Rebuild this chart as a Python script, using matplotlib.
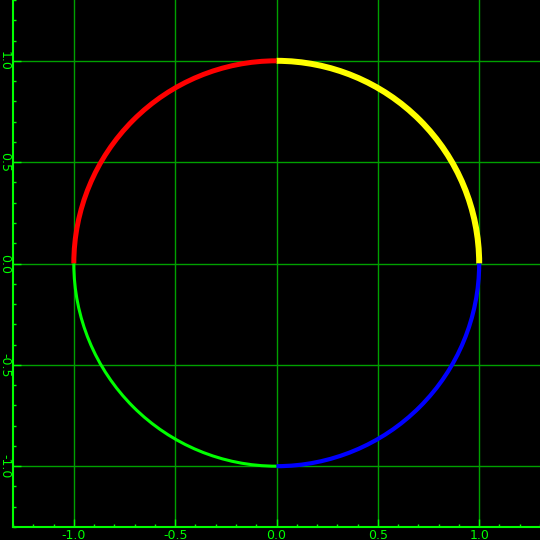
import matplotlib
matplotlib.use("Agg")
import matplotlib.pyplot as plt
from matplotlib.patches import Arc
from matplotlib.ticker import MultipleLocator

# circle split into four quadrant arcs
center = (0.0, 0.0)
radius = 1.0
start_deg = [0, 90, 180, 270]
end_deg = [90, 180, 270, 360]
arc_colors = ['#ffff00', '#ff0000', '#00ff00', '#0000ff']
arc_widths = [4.3, 3.6, 2.2, 3.0]

tick_vals = [-1.0, -0.5, 0.0, 0.5, 1.0]
tick_labels = ['-1.0', '-0.5', '0.0', '0.5', '1.0']

fg = '#00ff00'
grid_col = '#00a000'

fig = plt.figure(figsize=(5.4, 5.4), dpi=100, facecolor='black')
ax = fig.add_axes([13 / 540, 13 / 540, 527 / 540, 527 / 540])
ax.set_facecolor('black')

for t1, t2, c, lw in zip(start_deg, end_deg, arc_colors, arc_widths):
    ax.add_patch(Arc(center, 2 * radius, 2 * radius, theta1=t1, theta2=t2,
                     color=c, lw=lw, capstyle='butt', zorder=3))

ax.set_xlim(-1.3, 1.3)
ax.set_ylim(-1.3, 1.3)

ax.set_xticks(tick_vals)
ax.set_xticklabels(tick_labels)
ax.set_yticks(tick_vals)
ax.set_yticklabels(tick_labels, rotation=-90, va='center')
ax.xaxis.set_minor_locator(MultipleLocator(0.1))
ax.yaxis.set_minor_locator(MultipleLocator(0.1))

ax.grid(True, which='major', color=grid_col, lw=1.0, zorder=1)
ax.tick_params(which='both', direction='in', colors=fg, labelcolor=fg,
               labelsize=9, pad=1.5)
ax.tick_params(which='major', length=6, width=1)
ax.tick_params(which='minor', length=2.5, width=1)

for side in ['top', 'right']:
    ax.spines[side].set_visible(False)
for side in ['left', 'bottom']:
    ax.spines[side].set_color(fg)
    ax.spines[side].set_linewidth(1.5)

fig.savefig('out.png', dpi=100, facecolor='black')
